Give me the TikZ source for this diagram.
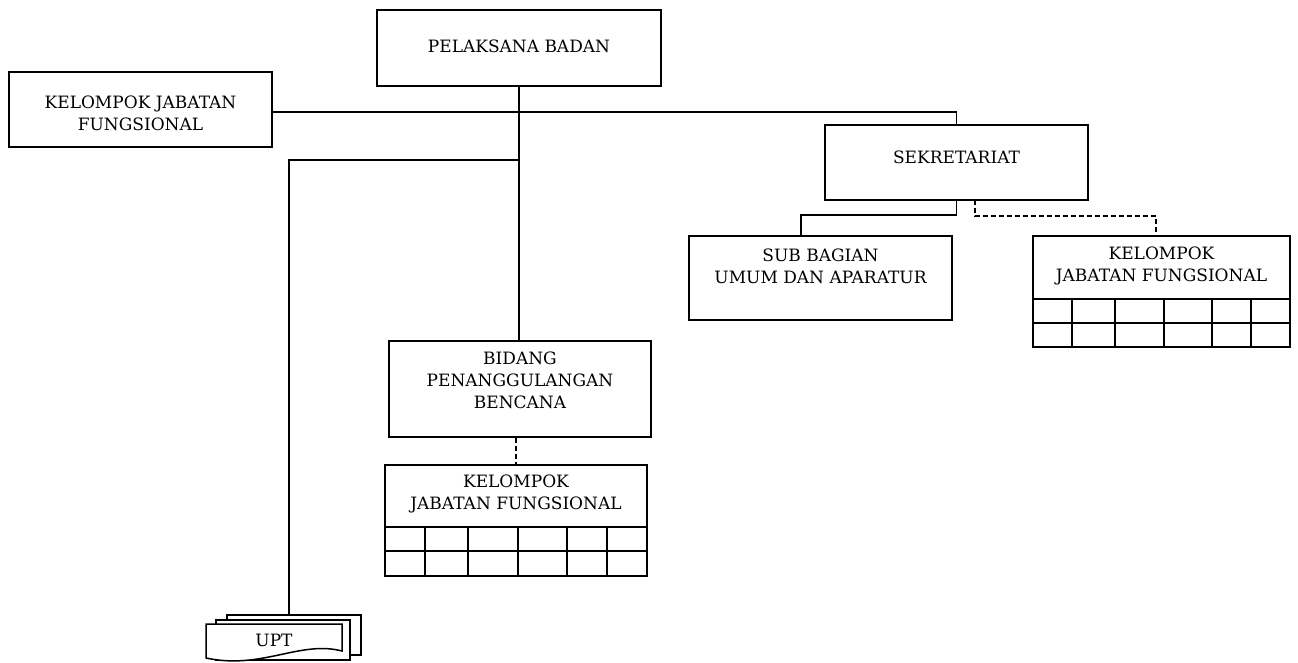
\documentclass[tikz,border=0pt]{standalone}
\usepackage{fontspec}
\setmainfont{DejaVu Serif}
\begin{document}
\begin{tikzpicture}[x=1pt,y=-1pt,
  box/.style={draw, line width=1.8pt, rectangle, inner sep=0pt},
  txt/.style={align=center, inner sep=0pt, font=\fontsize{17}{22}\selectfont, text=black},
  conn/.style={line width=1.8pt},
  dconn/.style={line width=1.8pt, dash pattern=on 5pt off 3pt},
  gridl/.style={line width=1.8pt}]
\useasboundingbox (0,0) rectangle (1298,662);
% boxes
\node[box, minimum width=284pt, minimum height=76pt] (pb) at (519,48) {};
\node[txt] (pbt) at (519,46) {PELAKSANA BADAN};
\node[box, minimum width=263pt, minimum height=75pt] (kjf1) at (140.5,109.5) {};
\node[txt] (kjf1t) at (140.5,113) {KELOMPOK JABATAN\\FUNGSIONAL};
\node[box, minimum width=263pt, minimum height=75pt] (sek) at (956.5,162.5) {};
\node[txt] (sekt) at (956.5,157) {SEKRETARIAT};
\node[box, minimum width=263pt, minimum height=84pt] (sub) at (820.5,278) {};
\node[txt] (subt) at (820.5,266) {SUB BAGIAN\\UMUM DAN APARATUR};
\node[box, minimum width=257pt, minimum height=111pt] (kjf2) at (1161.5,291.5) {};
\node[txt] (kjf2t) at (1161.5,266) {KELOMPOK\\JABATAN FUNGSIONAL};
\node[box, minimum width=262pt, minimum height=96pt] (bid) at (520,389) {};
\node[txt] (bidt) at (520,380) {BIDANG\\PENANGGULANGAN\\BENCANA};
\node[box, minimum width=262pt, minimum height=111pt] (kjf3) at (516,520.5) {};
\node[txt] (kjf3t) at (516,494) {KELOMPOK\\JABATAN FUNGSIONAL};
% grids
\draw[gridl] (1033,299) -- (1290,299) (1033,323) -- (1290,323);
\foreach \x in {1072,1115,1164,1212,1251} \draw[gridl] (\x,299) -- (\x,347);
\draw[gridl] (385,527) -- (647,527) (385,551) -- (647,551);
\foreach \x in {425,468,518,567,607} \draw[gridl] (\x,527) -- (\x,576);
% UPT multi-document
\draw[line width=1.5pt, fill=white] (227,615) -- (361,615) -- (361,655) -- (227,655) -- cycle;
\draw[line width=1.5pt, fill=white] (216,620) -- (350,620) -- (350,660) -- (216,660) -- cycle;
\draw[line width=1.5pt, fill=white] (206,624) -- (342,624) -- (342,651) .. controls (300,640) and (262,670) .. (206,658) -- cycle;
\coordinate (upt) at (289,615);
\node[txt] (uptt) at (274,640) {UPT};
% connectors
\draw[conn] (pb.south) -- (pb.south |- bid.north);
\coordinate (k1) at (272,112);
\draw[conn] (k1) -- (k1 -| sek.north) -- (sek.north);
\coordinate (j1) at (519,160);
\draw[conn] (j1) -- (j1 -| upt) -- (upt);
\coordinate (s1) at (801,215);
\draw[conn] (sek.south) -- (sek.south |- s1) -- (s1) -- (s1 |- sub.north);
\coordinate (d0) at (975,200);
\coordinate (d1) at (1156,216);
\draw[dconn] (d0) -- (d0 |- d1) -- (d1) -- (d1 |- kjf2.north);
\draw[dconn] (kjf3.north |- bid.south) -- (kjf3.north);
\end{tikzpicture}
\end{document}
